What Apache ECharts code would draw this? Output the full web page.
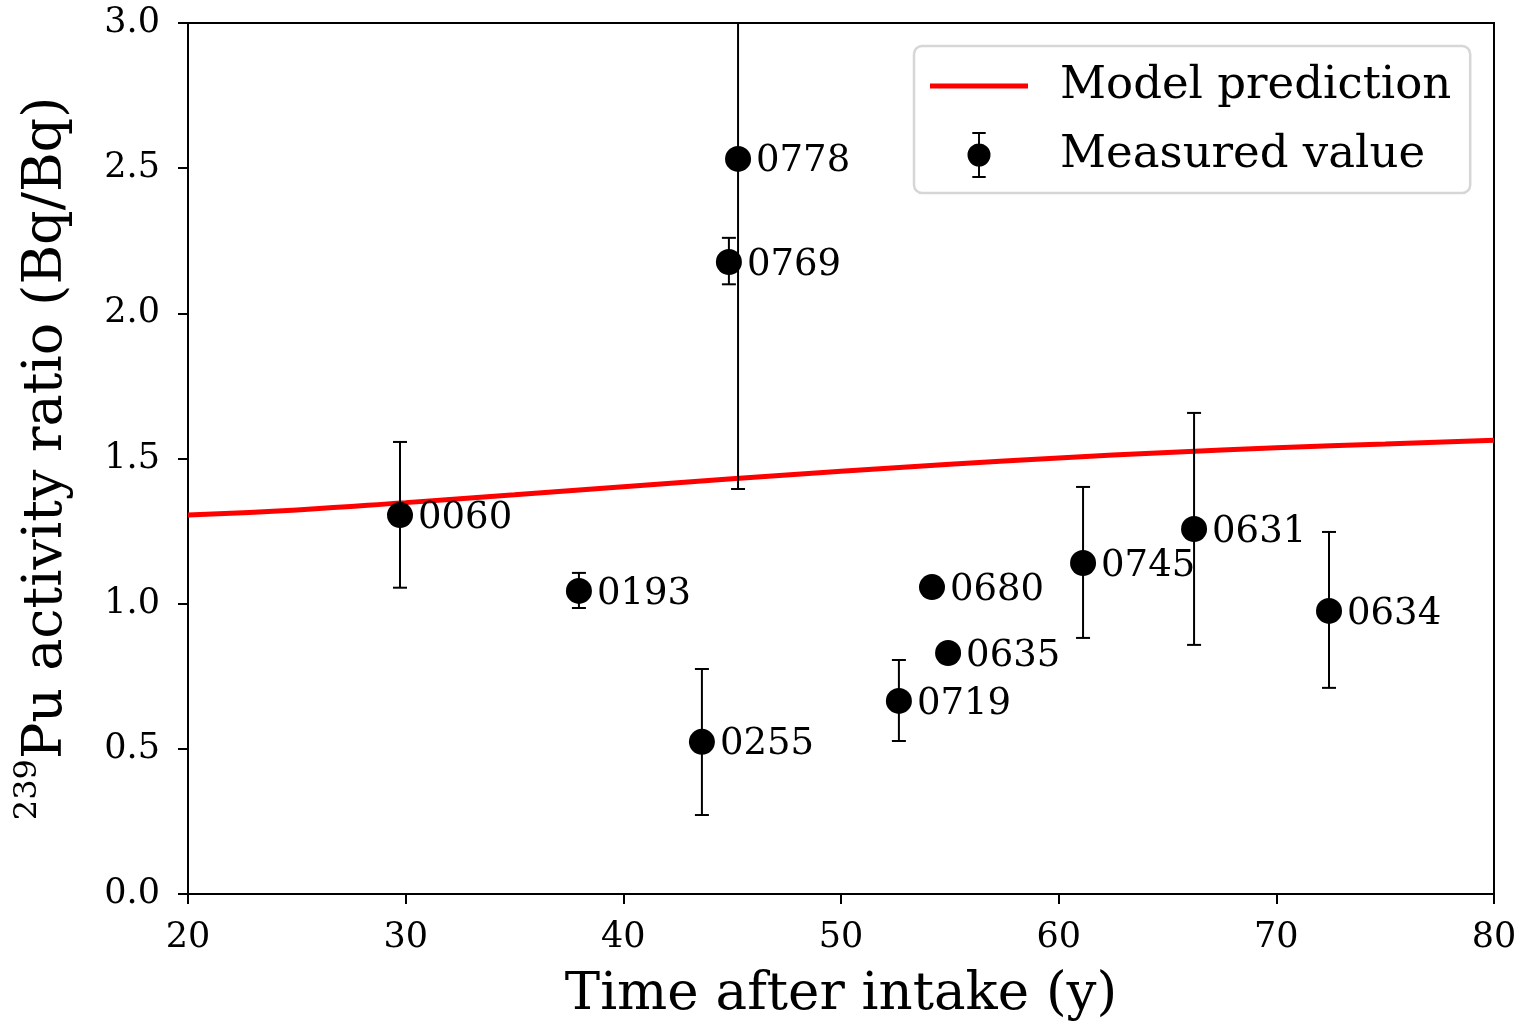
<!DOCTYPE html>
<html>
<head>
<meta charset="utf-8">
<script src="https://cdn.jsdelivr.net/npm/echarts@6/dist/echarts.min.js"></script>
<style>html,body{margin:0;padding:0;background:#fff}#c{width:1524px;height:1025px}</style>
</head>
<body>
<div id="c"></div>
<script>
// ---- data ----
const ids      = ['0060','0193','0255','0769','0778','0719','0680','0635','0745','0631','0634'];
const times    = [29.74, 37.96, 43.61, 44.85, 45.27, 52.66, 54.18, 54.92, 61.12, 66.22, 72.42];
const ratios   = [1.305, 1.044, 0.524, 2.177, 2.532, 0.665, 1.057, 0.830, 1.140, 1.257, 0.975];
const errLow   = [1.055, 0.985, 0.272, 2.100, 1.395, 0.527, 1.027, 0.800, 0.882, 0.858, 0.710];
const errHigh  = [1.557, 1.106, 0.775, 2.260, 3.670, 0.806, 1.087, 0.860, 1.402, 1.657, 1.247];
const modelT   = [20, 25, 30, 35, 40, 45, 50, 55, 60, 65, 70, 75, 80];
const modelR   = [1.305, 1.323, 1.348, 1.375, 1.403, 1.430, 1.456, 1.480, 1.502, 1.521, 1.537, 1.550, 1.563];
const xTicks   = [20, 30, 40, 50, 60, 70, 80];
const yTicks   = [0.0, 0.5, 1.0, 1.5, 2.0, 2.5, 3.0];

const FONT = 'DejaVu Serif';
const chart = echarts.init(document.getElementById('c'), null, {renderer: 'canvas'});

const pts = times.map((t, i) => ({value: [t, ratios[i]], name: ids[i]}));
const errs = times.map((t, i) => [t, errLow[i], errHigh[i]]);
const model = modelT.map((t, i) => [t, modelR[i]]);

const lineIcon = 'path://M 0 0 L 98 0 L 98 5 L 0 5 Z';
const measuredIcon = 'path://M -12 0 A 12 12 0 1 1 12 0 A 12 12 0 1 1 -12 0 Z ' +
  'M -1 -23 L 1 -23 L 1 23 L -1 23 Z M -7 -24 L 7 -24 L 7 -22 L -7 -22 Z M -7 22 L 7 22 L 7 24 L -7 24 Z';

chart.setOption({
  animation: false,
  backgroundColor: '#fff',
  textStyle: {fontFamily: FONT},
  grid: {left: 188, right: 30, top: 23, bottom: 131, show: true, borderColor: '#000', borderWidth: 2,
         containLabel: false, outerBoundsMode: 'none'},
  legend: {
    orient: 'vertical',
    left: 914, top: 46,
    padding: [17, 19, 15, 16],
    itemWidth: 98, itemHeight: 46, itemGap: 23,
    borderColor: '#d6d6d6', borderWidth: 2.5, borderRadius: 8,
    backgroundColor: 'rgba(255,255,255,0.85)',
    textStyle: {fontFamily: FONT, fontSize: 45, color: '#000', padding: [0, 0, 0, 27], lineHeight: 46},
    data: [
      {name: 'Model prediction', icon: lineIcon},
      {name: 'Measured value', icon: measuredIcon}
    ]
  },
  xAxis: {
    type: 'value', min: 20, max: 80, interval: 10,
    name: 'Time after intake (y)', nameLocation: 'middle', nameGap: 75,
    nameTextStyle: {fontFamily: FONT, fontSize: 53, color: '#000'},
    axisLine: {show: true, onZero: false, lineStyle: {color: '#000', width: 2}},
    axisTick: {show: true, inside: false, length: 10, lineStyle: {color: '#000', width: 2}},
    axisLabel: {fontFamily: FONT, fontSize: 35, color: '#000', margin: 26,
      formatter: v => xTicks.includes(v) ? String(v) : ''},
    splitLine: {show: false}
  },
  yAxis: {
    type: 'value', min: 0, max: 3, interval: 0.5,
    name: '{sup|239}{main|Pu activity ratio (Bq/Bq)}', nameLocation: 'middle', nameGap: 114, nameRotate: 90,
    nameTextStyle: {fontFamily: FONT, color: '#000',
      rich: {
        sup: {fontFamily: FONT, fontSize: 32, color: '#000', verticalAlign: 'bottom', padding: [0, 0, 30, 0]},
        main: {fontFamily: FONT, fontSize: 54, color: '#000', verticalAlign: 'bottom'}
      }},
    axisLine: {show: true, onZero: false, lineStyle: {color: '#000', width: 2}},
    axisTick: {show: true, inside: false, length: 10, lineStyle: {color: '#000', width: 2}},
    axisLabel: {fontFamily: FONT, fontSize: 35, color: '#000', margin: 28,
      formatter: v => yTicks.some(t => Math.abs(t - v) < 1e-9) ? v.toFixed(1) : ''},
    splitLine: {show: false}
  },
  series: [
    {
      name: 'Model prediction', type: 'line', data: model, smooth: true,
      symbol: 'none', lineStyle: {color: '#ff0000', width: 5}, itemStyle: {color: '#ff0000'}, z: 3
    },
    {
      name: 'Measured value', type: 'custom', data: errs, clip: true, z: 4,
      itemStyle: {color: '#000'},
      renderItem: (params, api) => {
        const x = api.value(0), lo = api.value(1), hi = api.value(2);
        const p0 = api.coord([x, lo]), p1 = api.coord([x, hi]);
        const w = 7, st = {stroke: '#000', lineWidth: 2};
        return {type: 'group', children: [
          {type: 'line', shape: {x1: p0[0], y1: p0[1], x2: p1[0], y2: p1[1]}, style: st},
          {type: 'line', shape: {x1: p0[0] - w, y1: p0[1], x2: p0[0] + w, y2: p0[1]}, style: st},
          {type: 'line', shape: {x1: p1[0] - w, y1: p1[1], x2: p1[0] + w, y2: p1[1]}, style: st}
        ]};
      }
    },
    {
      name: 'Measured value', type: 'scatter', data: pts, symbol: 'circle', symbolSize: 26, z: 5,
      itemStyle: {color: '#000', opacity: 1},
      label: {show: true, position: 'right', distance: 5, offset: [0, 3], formatter: p => p.name,
        fontFamily: FONT, fontSize: 37, color: '#000'}
    }
  ]
});
</script>
</body>
</html>
